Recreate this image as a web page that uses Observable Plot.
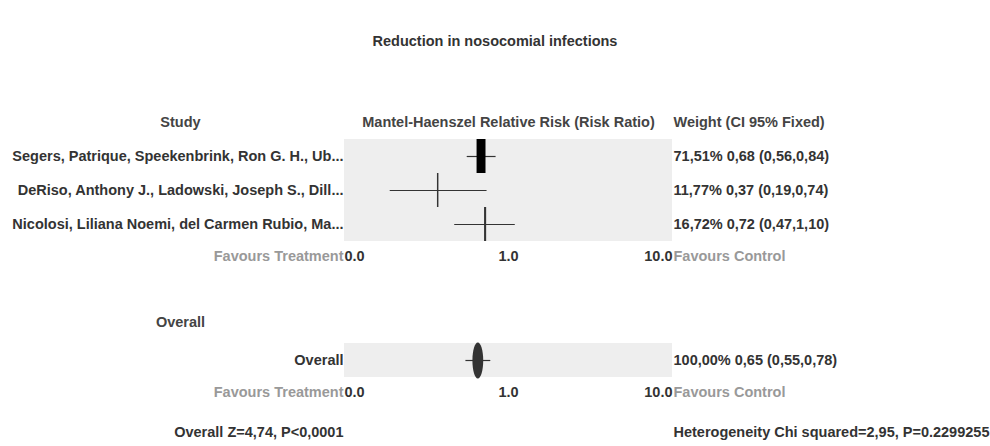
<!DOCTYPE html>
<html>
<head>
<meta charset="utf-8">
<script src="https://cdn.jsdelivr.net/npm/d3@7"></script>
<script src="https://cdn.jsdelivr.net/npm/@observablehq/plot@0.6"></script>
<style>
  html, body { margin: 0; padding: 0; background: #fff; width: 990px; height: 446px; overflow: hidden; }
  #title { height: 39px; padding-top: 31px; line-height: 20px; text-align: center;
    font-family: "Liberation Sans", Arial, sans-serif; font-weight: bold; font-size: 14.5px; color: #333; }
</style>
</head>
<body>
<div id="title">Reduction in nosocomial infections</div>
<div id="chart"></div>
<script>
// ---- data ----
const studies = [
  "Segers, Patrique, Speekenbrink, Ron G. H., Ub...",
  "DeRiso, Anthony J., Ladowski, Joseph S., Dill...",
  "Nicolosi, Liliana Noemi, del Carmen Rubio, Ma..."
];
const rr = [0.68, 0.37, 0.72];
const lo = [0.56, 0.19, 0.47];
const hi = [0.84, 0.74, 1.10];
const weights = [71.51, 11.77, 16.72];

const overallLabel = "Overall";
const overallRR = 0.65, overallLo = 0.55, overallHi = 0.78, overallWeight = 100.00;

const tickValues = [0.1, 1, 10];
const tickLabels = ["0.0", "1.0", "10.0"];

const headerStudy = "Study";
const headerEffect = "Mantel-Haenszel Relative Risk (Risk Ratio)";
const headerWeight = "Weight (CI 95% Fixed)";
const favoursLeft = "Favours Treatment";
const favoursRight = "Favours Control";
const overallSection = "Overall";
const zText = "Overall Z=4,74, P<0,0001";
const hetText = "Heterogeneity Chi squared=2,95, P=0.2299255";

// ---- table build ----
const fmt = v => v.toFixed(2).replace(".", ",");
const rows = studies.map((s, i) => ({
  row: s, label: s, rr: rr[i], lo: lo[i], hi: hi[i], w: weights[i],
  text: `${fmt(weights[i])}% ${fmt(rr[i])} (${fmt(lo[i])},${fmt(hi[i])})`
}));
const overallRow = {
  row: "__overall", label: overallLabel, rr: overallRR, lo: overallLo, hi: overallHi, w: overallWeight,
  text: `${fmt(overallWeight)}% ${fmt(overallRR)} (${fmt(overallLo)},${fmt(overallHi)})`
};
const yDomain = ["__header", ...studies, "__axis1", "__gap", "__ovHeader", "__overall", "__axis2", "__footer"];
const ticks1 = tickValues.map((v, i) => ({x: v, label: tickLabels[i], row: "__axis1"}));
const ticks2 = tickValues.map((v, i) => ({x: v, label: tickLabels[i], row: "__axis2"}));
const allTicks = [...ticks1, ...ticks2];
const anchorFor = i => i === 0 ? "start" : (i === tickValues.length - 1 ? "end" : "middle");

const ellipse = {
  draw(ctx, size) {
    const r = Math.sqrt(size / Math.PI);
    const rx = r * 0.3, ry = r, k = 0.5523;
    ctx.moveTo(0, -ry);
    ctx.bezierCurveTo(k * rx, -ry, rx, -k * ry, rx, 0);
    ctx.bezierCurveTo(rx, k * ry, k * rx, ry, 0, ry);
    ctx.bezierCurveTo(-k * rx, ry, -rx, k * ry, -rx, 0);
    ctx.bezierCurveTo(-rx, -k * ry, -k * rx, -ry, 0, -ry);
    ctx.closePath();
  }
};

const FONT = "Liberation Sans, Arial, sans-serif";
const FS = 14.5;
const txt = (data, opts) => Plot.text(data, {fontSize: FS, fontWeight: "bold", fill: "#333", ...opts});

const panelRows = [...rows, overallRow];

const chart = Plot.plot({
  width: 990,
  height: 376,
  marginTop: 35,
  marginBottom: 1,
  marginLeft: 344,
  marginRight: 318,
  style: {fontFamily: FONT, background: "transparent", overflow: "visible"},
  x: {type: "log", domain: [0.1, 10], axis: null},
  y: {type: "band", domain: yDomain, padding: 0, axis: null, round: true},
  marks: [
    // gray panels
    Plot.barX(panelRows, {x1: 0.1, x2: 10, y: "row", fill: "#eeeeee"}),
    // CI lines
    Plot.ruleY(panelRows, {x1: "lo", x2: "hi", y: "row", stroke: "#333", strokeWidth: 1.2}),
    // study boxes (width ~ weight)
    Plot.tickX(rows, {x: "rr", y: "row", stroke: d => d.w > 50 ? "#000" : "#333", strokeWidth: d => d.w * 0.125}),
    // overall ellipse
    Plot.dot([overallRow], {x: "rr", y: "row", r: 18, symbol: ellipse, fill: "#333", stroke: "none"}),
    // reference line at 1
    Plot.ruleX(panelRows, {x: 1, y: "row", stroke: "#555", strokeWidth: 1.2}),
    // study labels
    txt(panelRows, {x: 0.1, y: "row", text: "label", textAnchor: "end", dx: -1}),
    // weight / CI text
    txt(panelRows, {x: 10, y: "row", text: "text", textAnchor: "start", dx: 1}),
    // headers
    txt([headerStudy], {x: 0.1, y: () => "__header", text: d => d, textAnchor: "middle", dx: -164, fill: "#444"}),
    txt([headerEffect], {x: 1, y: () => "__header", text: d => d, textAnchor: "middle", fill: "#444"}),
    txt([headerWeight], {x: 10, y: () => "__header", text: d => d, textAnchor: "start", dx: 1, fill: "#444"}),
    txt([overallSection], {x: 0.1, y: () => "__ovHeader", text: d => d, textAnchor: "middle", dx: -164, dy: -4, fill: "#444"}),
    // axis tick labels
    ...tickValues.map((v, i) => txt(allTicks.filter(t => t.x === v), {x: "x", y: "row", text: "label", textAnchor: anchorFor(i), dy: -2})),
    // favours labels
    txt(["__axis1", "__axis2"], {x: 0.1, y: d => d, text: () => favoursLeft, textAnchor: "end", dx: -1, dy: -2, fill: "#999"}),
    txt(["__axis1", "__axis2"], {x: 10, y: d => d, text: () => favoursRight, textAnchor: "start", dx: 1, dy: -2, fill: "#999"}),
    // footer
    txt([zText], {x: 0.1, y: () => "__footer", text: d => d, textAnchor: "end", dx: -1, dy: 4}),
    txt([hetText], {x: 10, y: () => "__footer", text: d => d, textAnchor: "start", dx: 1, dy: 4})
  ]
});
document.getElementById("chart").appendChild(chart);
</script>
</body>
</html>
